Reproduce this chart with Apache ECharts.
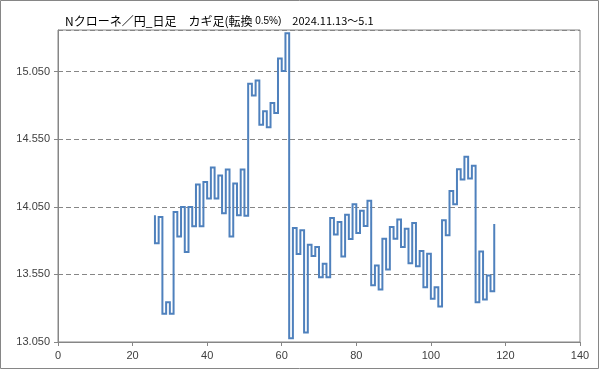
<!DOCTYPE html>
<html>
<head>
<meta charset="utf-8">
<script src="https://cdn.jsdelivr.net/npm/echarts@6/dist/echarts.min.js"></script>
<style>
html,body{margin:0;padding:0;background:#fff;}
#chart{width:599px;height:369px;}
</style>
</head>
<body>
<div id="chart"></div>
<script>
// Kagi chart turning prices (NOK/JPY daily, reversal 0.5%)
const titleMain = 'Nクローネ／円_日足　カギ足(転換';
const titleRate = ' 0.5%)';
const titlePeriod = '　2024.11.13～5.1';
const startX = 26;
const kagiPrices = [
  13.987, 13.781, 13.974, 13.258, 13.344, 13.258, 14.011, 13.831, 14.048, 13.715,
  14.048, 13.905, 14.215, 13.905, 14.234, 14.111, 14.340, 14.111, 14.281, 14.002,
  14.326, 13.831, 14.222, 13.987, 14.325, 13.983, 14.959, 14.872, 14.983, 14.657,
  14.756, 14.638, 14.818, 14.744, 15.146, 15.053, 15.333, 13.077, 13.893, 13.700,
  13.876, 13.121, 13.770, 13.685, 13.752, 13.529, 13.629, 13.529, 13.967, 13.844,
  13.937, 13.683, 13.990, 13.812, 14.069, 13.856, 14.020, 13.907, 14.094, 13.470,
  13.616, 13.438, 13.814, 13.586, 13.900, 13.814, 13.955, 13.752, 13.888, 13.633,
  13.930, 13.611, 13.722, 13.455, 13.703, 13.369, 13.455, 13.312, 13.950, 13.839,
  14.167, 14.069, 14.328, 14.252, 14.419, 14.259, 14.353, 13.344, 13.720, 13.364,
  13.542, 13.425, 13.922
];
const yTicks = [13.05, 13.55, 14.05, 14.55, 15.05];
const xTicks = [0, 20, 40, 60, 80, 100, 120, 140];

// step 'end' draws horizontal then vertical between consecutive points
const seriesData = [[startX, kagiPrices[0]]].concat(
  kagiPrices.slice(1).map((v, k) => [startX + k, v])
);

const chart = echarts.init(document.getElementById('chart'), null, {renderer: 'canvas'});
const axisColor = '#868686';
const labelColor = '#404040';
const fontFam = '"Liberation Sans", Arial, sans-serif';

chart.setOption({
  animation: false,
  backgroundColor: '#ffffff',
  title: {
    left: 60, top: 10,
    text: '{a|' + titleMain + '}{b|' + titleRate + '}{c|' + titlePeriod + '}',
    textStyle: {
      fontWeight: 'normal',
      rich: {
        a: {fontFamily: '"Noto Sans CJK JP", sans-serif', fontSize: 12, fontWeight: 'normal', color: '#000'},
        b: {fontFamily: fontFam, fontSize: 10, fontWeight: 'normal', color: '#000'},
        c: {fontFamily: '"Noto Sans CJK JP", sans-serif', fontSize: 11, fontWeight: 'normal', color: '#000'}
      }
    }
  },
  graphic: [{
    type: 'rect', silent: true,
    shape: {x: 0.5, y: 0.5, width: 598, height: 368},
    style: {fill: 'none', stroke: axisColor, lineWidth: 1}
  }],
  grid: {
    left: 58, right: 19, top: 30, bottom: 27,
    show: true, borderColor: axisColor, borderWidth: 1, backgroundColor: 'transparent'
  },
  xAxis: {
    type: 'value', min: xTicks[0], max: xTicks[xTicks.length - 1], interval: 20,
    axisLine: {show: true, lineStyle: {color: axisColor}},
    axisTick: {show: true, length: 4, lineStyle: {color: axisColor}},
    splitLine: {show: false},
    axisLabel: {color: labelColor, fontFamily: fontFam, fontSize: 11, margin: 8}
  },
  yAxis: {
    type: 'value', min: yTicks[0], max: 15.357, interval: 0.5,
    axisLine: {show: true, lineStyle: {color: axisColor}},
    axisTick: {show: true, length: 4, lineStyle: {color: axisColor}},
    splitLine: {show: true, lineStyle: {color: axisColor, type: [5, 3], width: 1}},
    axisLabel: {
      color: labelColor, fontFamily: fontFam, fontSize: 11, margin: 8,
      showMaxLabel: false,
      formatter: function (v) {
        const hit = yTicks.some(t => Math.abs(t - v) < 1e-6);
        return hit ? v.toFixed(3) : '';
      }
    }
  },
  series: [{
    type: 'line',
    step: 'end',
    data: seriesData,
    showSymbol: false,
    symbol: 'none',
    lineStyle: {color: '#4F81BD', width: 2, join: 'miter'},
    silent: true
  }]
});
</script>
</body>
</html>
